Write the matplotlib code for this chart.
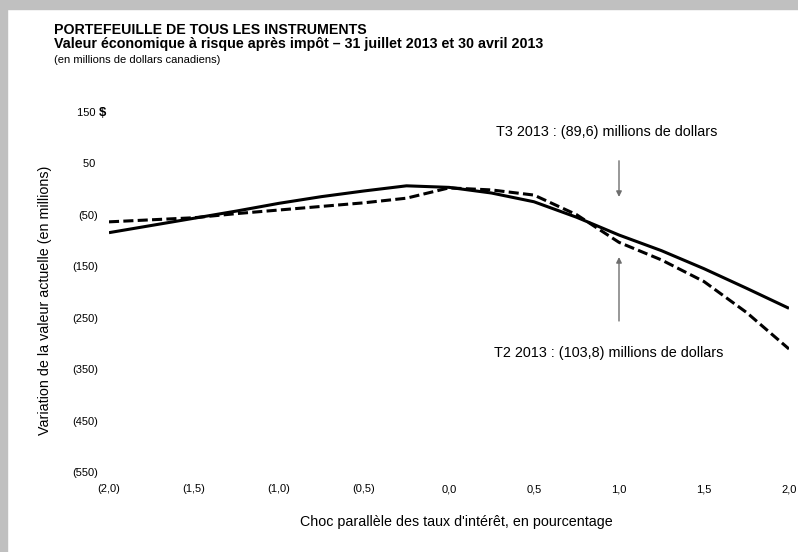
import numpy as np
import matplotlib.pyplot as plt
from matplotlib.patches import Rectangle

# -------------- data --------------
shocks = [-2.0, -1.75, -1.5, -1.25, -1.0, -0.75, -0.5, -0.25, 0.0,
          0.25, 0.5, 0.75, 1.0, 1.25, 1.5, 1.75, 2.0]
t3_2013 = [-85, -71, -57, -43, -28, -15, -4, 6, 3,
           -8, -25, -55, -89.6, -120, -155, -193, -232]
t2_2013 = [-64, -60, -56, -48, -41, -34, -27, -18, 2,
           -2, -12, -50, -103.8, -138, -180, -240, -311]
y_ticks = [150, 50, -50, -150, -250, -350, -450, -550]
x_ticks = [-2.0, -1.5, -1.0, -0.5, 0.0, 0.5, 1.0, 1.5, 2.0]
# ---------------------------------------------------------

plt.rcParams['font.family'] = ['Liberation Sans', 'DejaVu Sans']

W, H = 798, 552
fig = plt.figure(figsize=(W / 100, H / 100), dpi=100)

# grey frame on top and left
fig.patches.append(Rectangle((0, 1 - 9 / H), 1, 9 / H, transform=fig.transFigure,
                             color='#c0c0c0', zorder=0))
fig.patches.append(Rectangle((0, 0), 7 / W, 1, transform=fig.transFigure,
                             color='#c0c0c0', zorder=0))

ax_l, ax_r = 109, 789
ax_t, ax_b = 111.7, 472
ax = fig.add_axes([ax_l / W, 1 - ax_b / H, (ax_r - ax_l) / W, (ax_b - ax_t) / H])
ax.set_xlim(-2, 2)
ax.set_ylim(-550, 150)
for s in ax.spines.values():
    s.set_visible(False)


def fmt_num(v):
    return f'({abs(v):,.0f})' if v < 0 else f'{v:,.0f}\u2009'


def fmt_pct(v):
    s = f'{abs(v):.1f}'.replace('.', ',')
    return f'({s})' if v < 0 else s


ax.set_yticks(y_ticks)
ax.set_yticklabels([fmt_num(v) for v in y_ticks], fontsize=8)
ax.set_xticks(x_ticks)
ax.set_xticklabels([fmt_pct(v) for v in x_ticks], fontsize=8)
ax.tick_params(axis='both', length=0)
ax.tick_params(axis='y', pad=8)
ax.tick_params(axis='x', pad=9)

ax.plot(shocks, t3_2013, color='black', lw=2.2, solid_capstyle='butt')
ln, = ax.plot(shocks, t2_2013, color='black', lw=2.2)
ln.set_dashes([3.3, 1.4])

# "$" next to the top tick label
fig.text(99 / W, 1 - 116.5 / H, '$', fontsize=9.5, fontweight='bold',
         va='baseline', ha='left')

# annotations
ax.annotate('', xy=(1.0, -21), xytext=(1.0, 60),
            arrowprops=dict(arrowstyle='-|>', color='#6e6e6e', lw=1.0, mutation_scale=8))
ax.annotate('', xy=(1.0, -127), xytext=(1.0, -262),
            arrowprops=dict(arrowstyle='-|>', color='#6e6e6e', lw=1.0, mutation_scale=8))
fig.text(607 / W, 1 - 132 / H, 'T3 2013 : (89,6) millions de dollars',
         fontsize=10.4, ha='center', va='center')
fig.text(609 / W, 1 - 353 / H, 'T2 2013 : (103,8) millions de dollars',
         fontsize=10.4, ha='center', va='center')

# titles
fig.text(54 / W, 1 - 34.5 / H, 'PORTEFEUILLE DE TOUS LES INSTRUMENTS',
         fontsize=10.2, fontweight='bold', va='baseline')
fig.text(54 / W, 1 - 48 / H,
         'Valeur économique à risque après impôt – 31 juillet 2013 et 30 avril 2013',
         fontsize=10.3, fontweight='bold', va='baseline')
fig.text(54 / W, 1 - 63 / H, '(en millions de dollars canadiens)',
         fontsize=8, va='baseline')

fig.text(45 / W, 1 - 300 / H, 'Variation de la valeur actuelle (en millions)',
         fontsize=10.3, rotation=90, ha='center', va='center')
fig.text(456 / W, 1 - 522 / H, "Choc parallèle des taux d'intérêt, en pourcentage",
         fontsize=10.3, ha='center', va='center')

fig.savefig('out.png', dpi=100)
